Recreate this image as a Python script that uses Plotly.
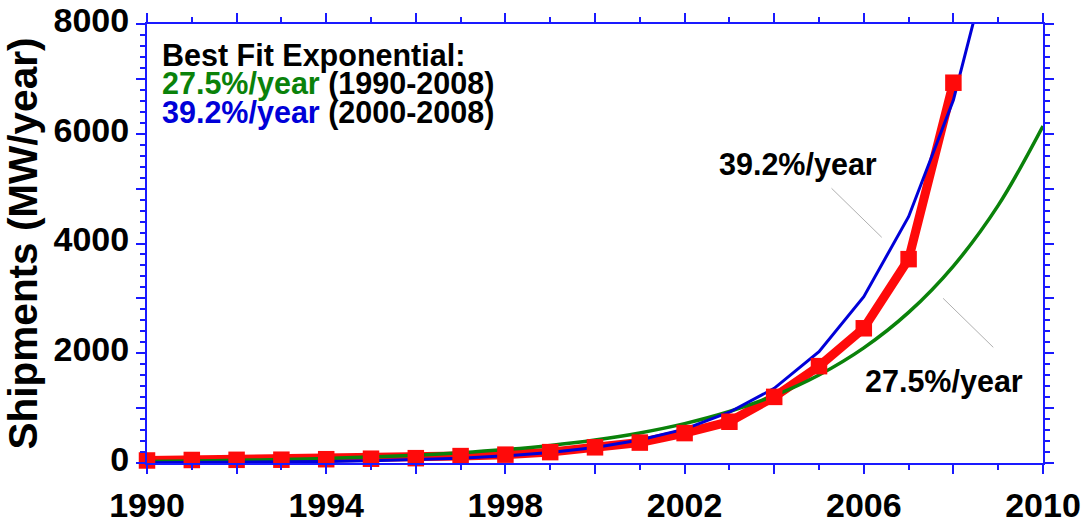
import plotly.graph_objects as go

# ---- data ----
years_actual = list(range(1990, 2009))
shipments = [46, 55, 58, 60, 69, 78, 88, 126, 152, 198, 286, 372, 545, 752, 1205, 1765, 2455, 3715, 6930]

years_fit_green = list(range(1990, 2011))
fit_green = [29, 37, 49, 64, 84, 110, 143, 187, 245, 320, 419, 548, 717, 938, 1226, 1604, 2098, 2744, 3589, 4694, 6140]

years_fit_blue = list(range(1990, 2010))
fit_blue = [6, 8, 12, 18, 27, 40, 59, 88, 130, 192, 284, 420, 618, 925, 1361, 2028, 3031, 4488, 6615, 9790]

x_tickvals = list(range(1990, 2011, 2))
x_ticktext = [str(v) if (v - 1990) % 4 == 0 else "" for v in x_tickvals]
y_tickvals = list(range(0, 8001, 1000))
y_ticktext = [str(v) if v % 2000 == 0 else "" for v in y_tickvals]

FONT = "Liberation Sans, Arial, Helvetica, sans-serif"
AXIS_BLUE = "#1a1aff"
RED = "#ff0a0a"
GREEN = "#0a820a"
BLUE = "#0000d8"

fig = go.Figure()
# red connecting line (under the fits)
fig.add_trace(go.Scatter(x=years_actual, y=shipments, mode="lines",
                         line=dict(color=RED, width=9), showlegend=False, hoverinfo="skip"))
fig.add_trace(go.Scatter(x=years_fit_green, y=fit_green, mode="lines",
                         line=dict(color=GREEN, width=3.5, shape="spline"), showlegend=False))
fig.add_trace(go.Scatter(x=years_fit_blue, y=fit_blue, mode="lines",
                         line=dict(color=BLUE, width=3), showlegend=False))
# red square markers on top
fig.add_trace(go.Scatter(x=years_actual, y=shipments, mode="markers", cliponaxis=False,
                         marker=dict(symbol="square", size=16.5, color=RED, line=dict(width=0)),
                         showlegend=False))

axis_common = dict(
    showgrid=False, zeroline=False, showline=True, linecolor=AXIS_BLUE, linewidth=2,
    mirror="ticks", ticks="outside", tickcolor=AXIS_BLUE, tickwidth=1.5, ticklen=9,
    automargin=False,
    tickfont=dict(family=FONT, size=34, color="black", weight="bold"),
)

fig.update_xaxes(range=[1990, 2010], tickmode="array", tickvals=x_tickvals, ticktext=x_ticktext,
                 minor=dict(dtick=1, ticks="outside", ticklen=5, tickcolor=AXIS_BLUE, tickwidth=1.5),
                 ticklabelstandoff=2, **axis_common)
fig.update_yaxes(range=[0, 8000], tickmode="array", tickvals=y_tickvals, ticktext=y_ticktext,
                 minor=dict(dtick=200, ticks="outside", ticklen=5, tickcolor=AXIS_BLUE, tickwidth=1.5),
                 ticklabelstandoff=0, ticklabelshift=-4,
                 title=dict(text="Shipments (MW/year)", standoff=8,
                            font=dict(family=FONT, size=40.5, color="black", weight="bold")),
                 **axis_common)

ann_font = dict(family=FONT, size=30.5, color="black", weight="bold")
fig.add_annotation(x=1990.3, y=7435, xref="x", yref="y", text="Best Fit Exponential:",
                   showarrow=False, xanchor="left", yanchor="middle", font=ann_font)
fig.add_annotation(x=1990.3, y=6907, xref="x", yref="y",
                   text=f"<span style='color:{GREEN}'>27.5%/year</span> (1990-2008)",
                   showarrow=False, xanchor="left", yanchor="middle", font=ann_font)
fig.add_annotation(x=1990.3, y=6387, xref="x", yref="y",
                   text=f"<span style='color:{BLUE}'>39.2%/year</span> (2000-2008)",
                   showarrow=False, xanchor="left", yanchor="middle", font=ann_font)
fig.add_annotation(x=2004.54, y=5431, xref="x", yref="y", text="39.2%/year",
                   showarrow=False, xanchor="center", yanchor="middle", font=ann_font)
fig.add_annotation(x=2007.79, y=1494, xref="x", yref="y", text="27.5%/year",
                   showarrow=False, xanchor="center", yanchor="middle", font=ann_font)

# leader lines
fig.add_shape(type="line", xref="x", yref="y", x0=2005.28, y0=5006, x1=2006.40, y1=4113,
              line=dict(color="#b0b0b0", width=1))
fig.add_shape(type="line", xref="x", yref="y", x0=2007.77, y0=3001, x1=2008.89, y1=2108,
              line=dict(color="#b0b0b0", width=1))

fig.update_layout(width=1083, height=527, margin=dict(l=147, r=40, t=24, b=64, autoexpand=False),
                  plot_bgcolor="white", paper_bgcolor="white", showlegend=False)

fig.write_html("out.html", config={"displayModeBar": False},
               post_script="document.body.style.margin='0';document.body.style.overflow='hidden';")
